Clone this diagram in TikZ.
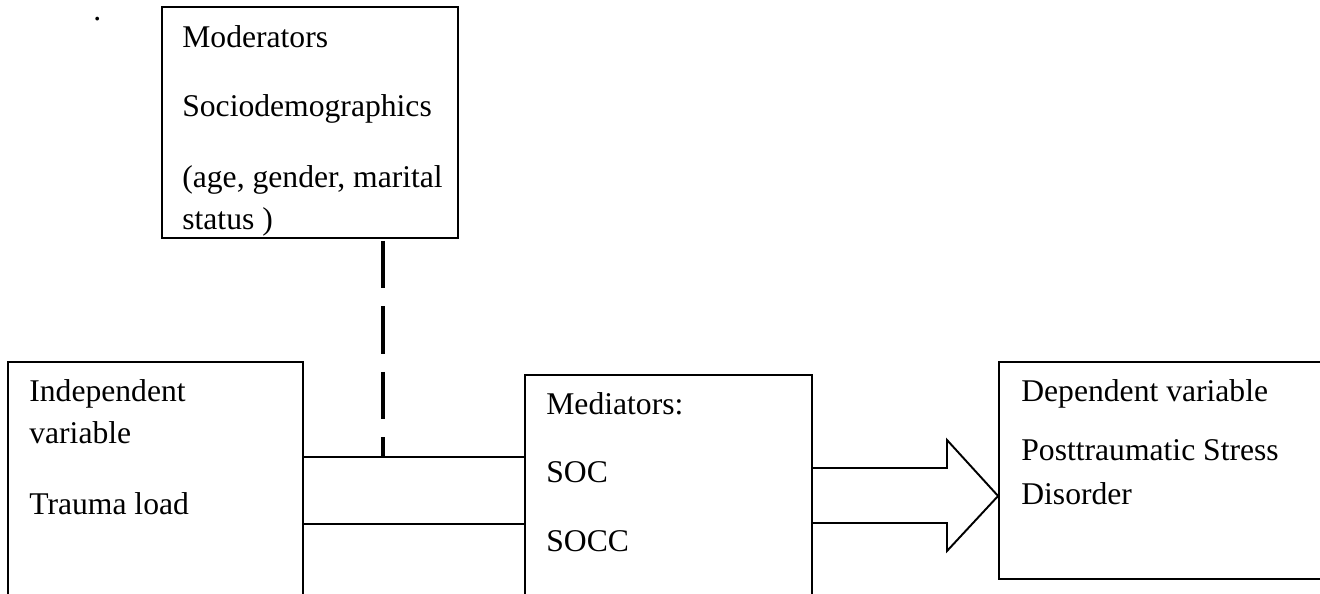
\documentclass[tikz,border=0pt]{standalone}
\usepackage{fontspec}
\setmainfont{Liberation Serif}
\begin{document}
\begin{tikzpicture}[x=0.02cm, y=-0.02cm, line join=miter,
    caja/.style={draw, line width=1.1pt, rectangle, inner sep=0pt},
    texto/.style={anchor=base west, inner sep=0pt, font=\fontsize{18}{22}\selectfont},
    enlace/.style={line width=1.1pt},
    moderacion/.style={line width=2.8pt, dash pattern=on 0.95cm off 0.36cm}]
    % --- CONFIGURACIÓN ---
    \clip (0,0) rectangle (1320,594);

    % --- CAJAS ---
    \node[caja, minimum width=5.92cm, minimum height=4.62cm] (mod) at (310,122.5) {};
    \node[caja, minimum width=5.90cm, minimum height=5.56cm] (ind) at (155.5,501) {};
    \node[caja, minimum width=5.74cm, minimum height=5.30cm] (med) at (668.5,507.5) {};
    \node[caja, minimum width=7.22cm, minimum height=4.34cm] (dep) at (1179.5,470.5) {};

    % --- TEXTOS ---
    \node[texto] (punto) at (93,21) {.};
    \node[texto] (mod1) at (182,48)  {Moderators};
    \node[texto] (mod2) at (182,117) {Sociodemographics};
    \node[texto] (mod3) at (182,188) {(age, gender, marital};
    \node[texto] (mod4) at (182,230) {status )};

    \node[texto] (ind1) at (29,402) {Independent};
    \node[texto] (ind2) at (29,444) {variable};
    \node[texto] (ind3) at (29,515) {Trauma load};

    \node[texto] (med1) at (546,415) {Mediators:};
    \node[texto] (med2) at (546,483) {SOC};
    \node[texto] (med3) at (546,552) {SOCC};

    \node[texto] (dep1) at (1021,402) {Dependent variable};
    \node[texto] (dep2) at (1021,461) {Posttraumatic Stress};
    \node[texto] (dep3) at (1021,505) {Disorder};

    % --- CONEXIONES ---
    \coordinate (arriba) at (383,457);
    \coordinate (abajo)  at (383,524);
    \draw[enlace] (ind.east |- arriba) -- (med.west |- arriba);
    \draw[enlace] (ind.east |- abajo)  -- (med.west |- abajo);
    \draw[moderacion, shorten <=0.04cm] (arriba |- mod.south) -- (arriba);

    % --- FLECHA ANCHA ---
    \coordinate (punta) at (dep.west |- 0,496);
    \draw[enlace] (med.east |- 0,468) -- (947,468) -- (947,440) -- (punta)
        -- (947,551) -- (947,523) -- (med.east |- 0,523);
\end{tikzpicture}
\end{document}
